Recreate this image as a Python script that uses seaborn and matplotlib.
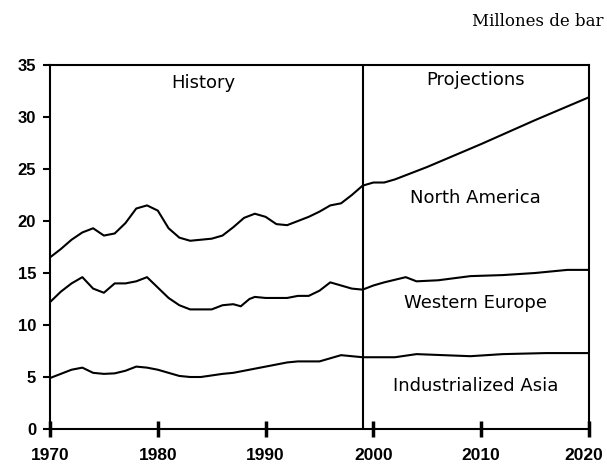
import matplotlib
matplotlib.use("Agg")
import matplotlib.pyplot as plt
import matplotlib.transforms as mtransforms
import seaborn as sns
import pandas as pd

sns.set_theme(style="white")
plt.rcParams['font.family'] = ['Liberation Sans', 'DejaVu Sans']

na_years = [1970, 1971, 1972, 1973, 1974, 1975, 1976, 1977, 1978, 1979, 1980, 1981, 1982,
            1983, 1984, 1985, 1986, 1987, 1988, 1989, 1990, 1991, 1992, 1993, 1994, 1995,
            1996, 1997, 1998, 1999, 2000, 2001, 2002, 2005, 2010, 2015, 2020]
na_vals = [16.5, 17.3, 18.2, 18.9, 19.3, 18.6, 18.8, 19.8, 21.2, 21.5, 21.0, 19.3, 18.4,
           18.1, 18.2, 18.3, 18.6, 19.4, 20.3, 20.7, 20.4, 19.7, 19.6, 20.0, 20.4, 20.9,
           21.5, 21.7, 22.5, 23.4, 23.7, 23.7, 24.0, 25.2, 27.4, 29.7, 31.9]

we_years = [1970, 1971, 1972, 1973, 1974, 1975, 1976, 1977, 1978, 1979, 1980, 1981, 1982,
            1983, 1984, 1985, 1986, 1987, 1987.7, 1988.5, 1989, 1990, 1991, 1992, 1993,
            1994, 1995, 1996, 1997, 1998, 1999, 2000, 2001, 2003, 2004, 2006, 2009, 2012,
            2015, 2018, 2020]
we_vals = [12.2, 13.2, 14.0, 14.6, 13.5, 13.1, 14.0, 14.0, 14.2, 14.6, 13.6, 12.6, 11.9,
           11.5, 11.5, 11.5, 11.9, 12.0, 11.8, 12.5, 12.7, 12.6, 12.6, 12.6, 12.8,
           12.8, 13.3, 14.1, 13.8, 13.5, 13.4, 13.8, 14.1, 14.6, 14.2, 14.3, 14.7, 14.8,
           15.0, 15.3, 15.3]

as_years = [1970, 1971, 1972, 1973, 1974, 1975, 1976, 1977, 1978, 1979, 1980, 1981, 1982,
            1983, 1984, 1985, 1986, 1987, 1988, 1989, 1990, 1991, 1992, 1993, 1995, 1996,
            1997, 1998, 1999, 2002, 2004, 2009, 2012, 2016, 2020]
as_vals = [4.9, 5.3, 5.7, 5.9, 5.4, 5.3, 5.35, 5.6, 6.0, 5.9, 5.7, 5.4, 5.1,
           5.0, 5.0, 5.15, 5.3, 5.4, 5.6, 5.8, 6.0, 6.2, 6.4, 6.5, 6.5, 6.8,
           7.1, 7.0, 6.9, 6.9, 7.2, 7.0, 7.2, 7.3, 7.3]

series_names = ["North America", "Western Europe", "Industrialized Asia"]
x_ticks = [1970, 1980, 1990, 2000, 2010, 2020]
y_ticks = [0, 5, 10, 15, 20, 25, 30, 35]
divider_year = 1999

df = pd.concat([
    pd.DataFrame({"year": na_years, "value": na_vals, "region": series_names[0]}),
    pd.DataFrame({"year": we_years, "value": we_vals, "region": series_names[1]}),
    pd.DataFrame({"year": as_years, "value": as_vals, "region": series_names[2]}),
])

fig = plt.figure(figsize=(6.07, 4.68), dpi=100)
ax = fig.add_axes([50/607, 1-429/468, (589-50)/607, (429-65)/468])

sns.lineplot(data=df, x="year", y="value", units="region", estimator=None,
             color="black", linewidth=1.5, ax=ax, legend=False)

ax.axvline(divider_year, color="black", linewidth=1.5)

ax.set_xlim(1970, 2020)
ax.set_ylim(0, 35)
ax.set_xticks(x_ticks)
ax.set_yticks(y_ticks)
ax.set_xlabel("")
ax.set_ylabel("")
for s in ax.spines.values():
    s.set_color("black")
    s.set_linewidth(1.5)
ax.tick_params(axis="x", direction="inout", length=12, width=2.5, color="black",
               labelsize=12.5, pad=8)
ax.tick_params(axis="y", direction="out", length=5, width=1.5, color="black",
               labelsize=12, pad=5)
ax.tick_params(left=True, bottom=True)
for lab in ax.get_xticklabels() + ax.get_yticklabels():
    lab.set_fontweight("bold")
    lab.set_color("black")

# nudge the last x label so it stays inside the picture
last = ax.xaxis.get_major_ticks()[-1].label1
last.set_transform(last.get_transform() +
                   mtransforms.ScaledTranslation(-4/72, 0, fig.dpi_scale_trans))

ann = dict(ha="center", va="center", fontsize=13, color="black",
           family=["DejaVu Sans"])
ax.text(1984.2, 33.3, "History", **ann)
ax.text(2009.5, 33.6, "Projections", **ann)
ax.text(2009.5, 22.2, series_names[0], **ann)
ax.text(2009.5, 12.1, series_names[1], **ann)
ax.text(2009.5, 4.1, series_names[2], **ann)

fig.text(472/607, 1-22/468, "Millones de bar", ha="left", va="center",
         fontsize=12, family=["DejaVu Serif"], color="black")

fig.savefig("out.png", dpi=100)
